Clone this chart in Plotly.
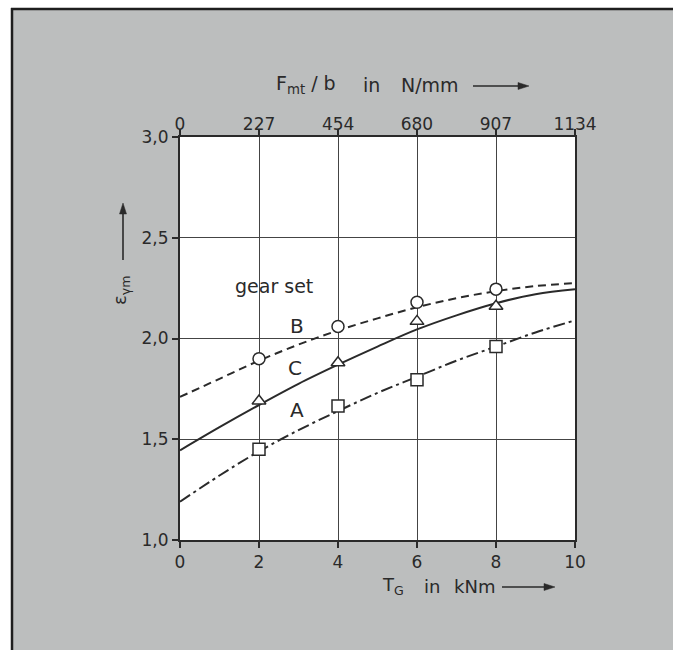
import plotly.graph_objects as go

# ---- data ----
x_curve = [0, 1, 2, 3, 4, 5, 6, 7, 8, 9, 10]
b_curve = [1.71, 1.80, 1.89, 1.97, 2.04, 2.10, 2.155, 2.20, 2.235, 2.26, 2.275]
c_curve = [1.445, 1.56, 1.67, 1.775, 1.87, 1.96, 2.045, 2.115, 2.175, 2.22, 2.245]
a_curve = [1.19, 1.32, 1.44, 1.545, 1.64, 1.73, 1.81, 1.89, 1.96, 2.03, 2.09]

x_marker = [2, 4, 6, 8]
b_mark = [1.90, 2.06, 2.18, 2.245]
c_mark = [1.69, 1.88, 2.085, 2.16]
a_mark = [1.45, 1.665, 1.795, 1.96]

x_ticks = [0, 2, 4, 6, 8, 10]
y_ticks = [1.0, 1.5, 2.0, 2.5, 3.0]
y_ticktext = ["1,0", "1,5", "2,0", "2,5", "3,0"]
top_ticks = [0, 227, 454, 680, 907, 1134]
top_ticktext = ["0", "227", "454", "680", "907", "1134"]

series_labels = ["B", "C", "A"]
label_x = [2.96, 2.91, 2.96]
label_y = [2.06, 1.855, 1.645]

top_title_parts = ["F<sub>mt</sub> / b", "in", "N/mm"]
bottom_title_parts = ["T<sub>G</sub>", "in", "kNm"]
y_title = "ε<sub>γm</sub>"

# ---- styling ----
INK = "#2a2a2a"
GREY = "#bcbebe"
FONT = "DejaVu Sans"

W, H = 673, 650
L, R, T, B = 180, 98, 137, 110
PW, PH = W - L - R, H - T - B


def fx(px):
    return (px - L) / PW


def fy(py):
    return (H - B - py) / PH


fig = go.Figure()

line_styles = [
    (b_curve, "8px,5px"),
    (c_curve, "solid"),
    (a_curve, "12px,4px,3px,4px"),
]
for ys, dash in line_styles:
    fig.add_trace(go.Scatter(
        x=x_curve, y=ys, mode="lines",
        line=dict(color=INK, width=2, dash=dash, shape="spline", smoothing=1.0),
        hoverinfo="skip", showlegend=False,
    ))

marker_sets = [
    (b_mark, "circle"),
    (c_mark, "triangle-up"),
    (a_mark, "square"),
]
for ys, sym in marker_sets:
    fig.add_trace(go.Scatter(
        x=x_marker, y=ys, mode="markers",
        marker=dict(symbol=sym, size=12, color="white",
                    line=dict(color=INK, width=1.5)),
        showlegend=False,
    ))

# dummy trace for the top axis
fig.add_trace(go.Scatter(x=[0, 1134], y=[None, None], xaxis="x2",
                         mode="lines", showlegend=False, hoverinfo="skip"))

annotations = [
    dict(x=2.38, y=2.26, text="gear set", showarrow=False,
         font=dict(size=19, color=INK, family=FONT)),
]
for t, lx, ly in zip(series_labels, label_x, label_y):
    annotations.append(dict(x=lx, y=ly, text=t, showarrow=False,
                            font=dict(size=20, color=INK, family=FONT)))

# axis titles, word by word
for t, px in zip(top_title_parts, [274, 361, 399]):
    annotations.append(dict(xref="paper", yref="paper", x=fx(px), y=fy(85),
                            xanchor="left", yanchor="middle", text=t,
                            showarrow=False,
                            font=dict(size=19, color=INK, family=FONT)))
for t, px in zip(bottom_title_parts, [380, 422, 452]):
    annotations.append(dict(xref="paper", yref="paper", x=fx(px), y=fy(586),
                            xanchor="left", yanchor="middle", text=t,
                            showarrow=False,
                            font=dict(size=18, color=INK, family=FONT)))
annotations.append(dict(xref="paper", yref="paper", x=fx(121), y=fy(291),
                        xanchor="center", yanchor="middle", text=y_title,
                        textangle=-90, showarrow=False,
                        font=dict(size=18, color=INK, family=FONT)))


def harrow(x0, x1, y):
    return [
        dict(type="line", xref="paper", yref="paper", layer="above",
             x0=fx(x0), x1=fx(x1 - 8), y0=fy(y), y1=fy(y),
             line=dict(color=INK, width=1.6)),
        dict(type="path", xref="paper", yref="paper", layer="above",
             path=f"M {fx(x1)},{fy(y)} L {fx(x1 - 11)},{fy(y - 3.5)} "
                  f"L {fx(x1 - 11)},{fy(y + 3.5)} Z",
             fillcolor=INK, line=dict(color=INK, width=0.5)),
    ]


def varrow(x, y0, y1):
    # y1 is the head (above)
    return [
        dict(type="line", xref="paper", yref="paper", layer="above",
             x0=fx(x), x1=fx(x), y0=fy(y0), y1=fy(y1 + 8),
             line=dict(color=INK, width=1.6)),
        dict(type="path", xref="paper", yref="paper", layer="above",
             path=f"M {fx(x)},{fy(y1)} L {fx(x - 3.5)},{fy(y1 + 11)} "
                  f"L {fx(x + 3.5)},{fy(y1 + 11)} Z",
             fillcolor=INK, line=dict(color=INK, width=0.5)),
    ]


shapes = [
    # grey cover at the right edge of the scanned sheet
    dict(type="rect", xref="paper", yref="paper", layer="above",
         x0=fx(640), x1=fx(720), y0=fy(720), y1=fy(9),
         fillcolor=GREY, line=dict(width=0)),
    # white strips outside the scanned frame
    dict(type="rect", xref="paper", yref="paper", layer="above",
         x0=fx(-20), x1=fx(11), y0=fy(700), y1=fy(-20),
         fillcolor="white", line=dict(width=0)),
    dict(type="rect", xref="paper", yref="paper", layer="above",
         x0=fx(-20), x1=fx(720), y0=fy(8), y1=fy(-20),
         fillcolor="white", line=dict(width=0)),
    # black frame lines
    dict(type="line", xref="paper", yref="paper", layer="above",
         x0=fx(12), x1=fx(12), y0=fy(8), y1=fy(700),
         line=dict(color="#1e1e1e", width=2.5)),
    dict(type="line", xref="paper", yref="paper", layer="above",
         x0=fx(11), x1=fx(720), y0=fy(9), y1=fy(9),
         line=dict(color="#1e1e1e", width=2.5)),
]
shapes += harrow(473, 529, 86)
shapes += harrow(502, 555, 587)
shapes += varrow(123, 260, 203)

axis_common = dict(
    showline=True, linecolor=INK, linewidth=2,
    ticks="outside", ticklen=6, tickwidth=1.5, tickcolor=INK,
    tickfont=dict(size=17, color=INK, family=FONT),
    zeroline=False,
)

fig.update_layout(
    width=W, height=H,
    margin=dict(l=L, r=R, t=T, b=B, pad=0),
    paper_bgcolor=GREY, plot_bgcolor="white",
    showlegend=False,
    xaxis=dict(range=[0, 10], tickvals=x_ticks, showgrid=True,
               gridcolor="#444444", gridwidth=1.3, **axis_common),
    xaxis2=dict(range=[0, 1134], overlaying="x", side="top", anchor="y",
                tickvals=top_ticks, ticktext=top_ticktext, showgrid=False,
                ticklabelstandoff=-8, **axis_common),
    yaxis=dict(range=[1.0, 3.0], tickvals=y_ticks, ticktext=y_ticktext,
               showgrid=True, gridcolor="#444444", gridwidth=1.3,
               mirror=True, **axis_common),
    annotations=annotations,
    shapes=shapes,
)

fig.write_html("out.html",
               config={"displayModeBar": False},
               post_script="document.body.style.margin='0';"
                           "document.body.style.overflow='hidden';")
